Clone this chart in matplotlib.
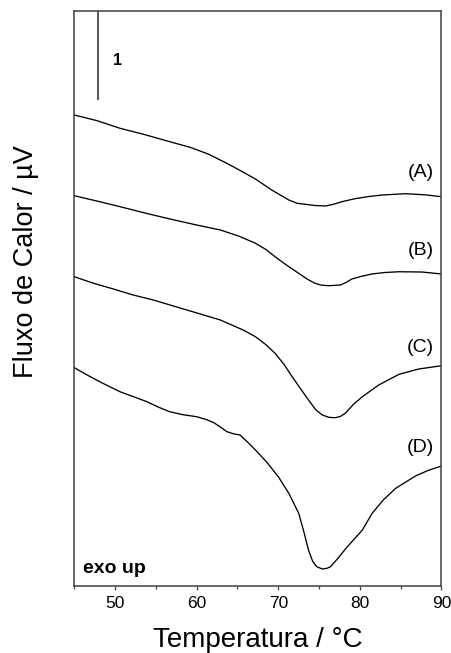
import matplotlib
matplotlib.use("Agg")
import matplotlib.pyplot as plt
from matplotlib.ticker import MultipleLocator

plt.rcParams['font.family'] = ['Liberation Sans', 'DejaVu Sans']

# Temperature (°C) and heat flow (µV, arbitrary offset)
temp_A = [45.0, 47.8, 50.6, 53.5, 56.7, 59.2, 61.5, 63.7, 65.5, 67.2, 69.2, 70.3, 71.3, 72.3, 73.3,
          74.5, 75.8, 76.8, 77.8, 79.4, 81.0, 82.7, 85.6, 88.0, 90.0]
flow_A = [5.292, 5.228, 5.143, 5.075, 4.992, 4.929, 4.850, 4.749, 4.660, 4.573, 4.449, 4.390, 4.337,
          4.300, 4.289, 4.275, 4.270, 4.290, 4.318, 4.352, 4.375, 4.393, 4.408, 4.395, 4.374]

temp_B = [45.0, 47.8, 50.6, 53.7, 56.7, 59.8, 62.9, 65.2, 67.2, 68.5, 69.6, 71.1, 72.5, 73.6, 74.5,
          75.3, 76.2, 77.6, 78.3, 79.0, 80.2, 81.5, 83.0, 84.8, 87.6, 90.0]
flow_B = [4.385, 4.325, 4.262, 4.190, 4.124, 4.060, 4.000, 3.930, 3.851, 3.780, 3.700, 3.600, 3.513,
          3.445, 3.401, 3.380, 3.374, 3.382, 3.410, 3.449, 3.480, 3.506, 3.522, 3.531, 3.528, 3.506]

temp_C = [45.0, 47.4, 49.8, 52.2, 54.7, 58.8, 62.9, 65.7, 67.2, 68.5, 69.6, 70.7, 71.7, 72.7, 73.7,
          74.6, 75.4, 76.2, 77.0, 77.6, 78.2, 79.2, 80.3, 82.3, 84.8, 87.2, 90.0]
flow_C = [3.475, 3.400, 3.337, 3.270, 3.213, 3.101, 2.989, 2.876, 2.801, 2.710, 2.615, 2.490, 2.352,
          2.220, 2.090, 1.980, 1.921, 1.895, 1.891, 1.905, 1.940, 2.040, 2.127, 2.258, 2.379, 2.438, 2.475]

temp_D = [45.0, 46.3, 47.7, 49.1, 50.6, 52.3, 53.9, 55.3, 56.7, 58.3, 60.0, 61.2, 62.1, 63.0, 63.7,
          64.5, 65.3, 66.2, 67.2, 68.6, 70.0, 71.3, 72.5, 73.1, 73.7, 74.2, 74.7, 75.4, 76.0, 76.4,
          77.3, 78.3, 80.3, 81.5, 82.9, 84.4, 86.8, 88.4, 90.0]
flow_D = [2.453, 2.385, 2.315, 2.250, 2.183, 2.125, 2.071, 2.010, 1.958, 1.925, 1.902, 1.870, 1.835,
          1.780, 1.734, 1.710, 1.697, 1.620, 1.528, 1.390, 1.228, 1.040, 0.817, 0.620, 0.404, 0.280,
          0.217, 0.191, 0.200, 0.217, 0.310, 0.424, 0.629, 0.817, 0.970, 1.098, 1.236, 1.300, 1.348]

curve_labels = ["(A)", "(B)", "(C)", "(D)"]
label_y = [4.646, 3.775, 2.685, 1.556]
x_ticks = [50, 60, 70, 80, 90]
scale_bar = 1.0  # µV

W, H = 452, 653
fig = plt.figure(figsize=(W / 100, H / 100), dpi=100)
ax_left, ax_right, ax_top, ax_bottom = 74.3, 441.5, 11, 586
ax = fig.add_axes([ax_left / W, 1 - ax_bottom / H, (ax_right - ax_left) / W, (ax_bottom - ax_top) / H])

for t, f in [(temp_A, flow_A), (temp_B, flow_B), (temp_C, flow_C), (temp_D, flow_D)]:
    ax.plot(t, f, color='black', lw=0.95, solid_joinstyle='round')

ax.set_xlim(45, 90)
ytop = (ax_bottom - ax_top) / 89.0
ax.set_ylim(0, ytop)

# scale bar
ax.plot([47.9, 47.9], [ytop, ytop - scale_bar], color='#555555', lw=1.4, solid_capstyle='butt')
ax.text(50.3, 5.854, "1", fontsize=11.5, fontweight='bold', ha='center', va='baseline')

for lab, y in zip(curve_labels, label_y):
    ax.text(89.05, y, lab, fontsize=14, ha='right', va='center')

ax.text(0.0237, 0.0226, "exo up", transform=ax.transAxes, fontsize=14, fontweight='bold',
        ha='left', va='baseline')

ax.set_xticks(x_ticks)
ax.xaxis.set_minor_locator(MultipleLocator(5))
ax.tick_params(axis='x', which='major', direction='out', length=3, width=0.9, color='#404040',
               labelsize=12.5, pad=4)
ax.tick_params(axis='x', which='minor', direction='out', length=1.8, width=0.9, color='#404040')
ax.set_yticks([])
for s in ax.spines.values():
    s.set_color('#404040')
    s.set_linewidth(1.1)

fig.text(258 / W, 1 - 646.7 / H, "Temperatura / °C", fontsize=20, ha='center', va='baseline')
fig.text(33 / W, 1 - 262 / H, "Fluxo de Calor / µV", fontsize=19.5, rotation=90,
         rotation_mode='anchor', ha='center', va='baseline')

fig.savefig("out.png", dpi=100)
